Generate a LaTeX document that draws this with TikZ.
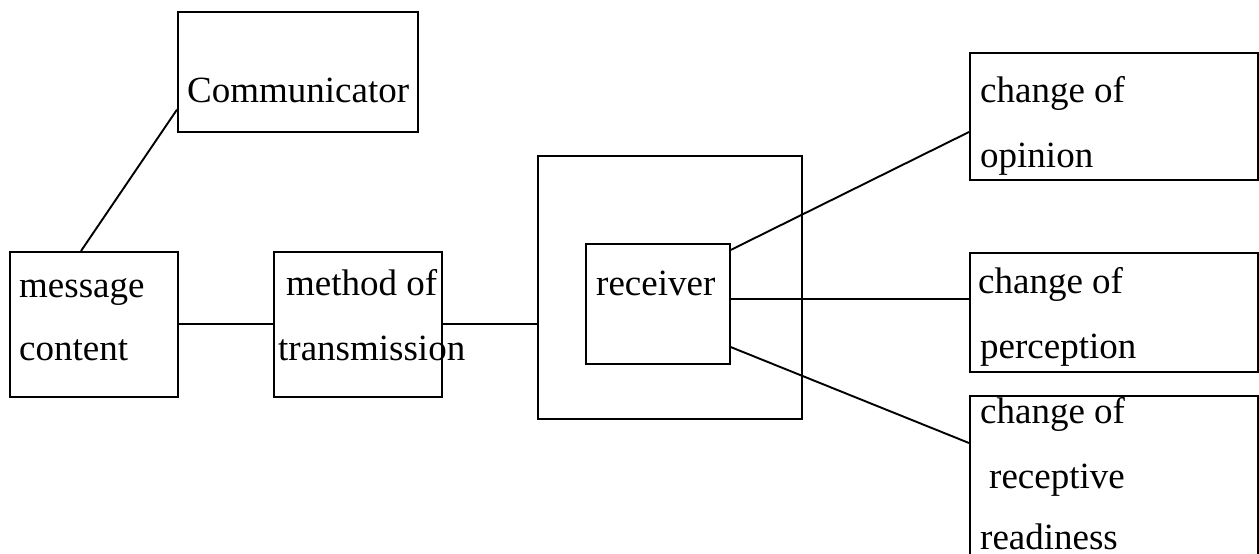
\documentclass[tikz,border=0pt]{standalone}
\usepackage{fontspec}
\setmainfont{Liberation Serif}
\usetikzlibrary{calc}
\begin{document}
\begin{tikzpicture}[x=1pt,y=-1pt,
  box/.style={draw,line width=1.6pt,rectangle,inner sep=0pt,anchor=north west},
  txt/.style={anchor=base west,inner sep=0pt,font=\fontsize{37}{44}\selectfont},
  link/.style={line width=1.9pt}]
\clip (0,0) rectangle (1259,554);
\fill[white] (0,0) rectangle (1259,554);

% boxes
\node[box,minimum width=240pt,minimum height=120pt] (comm) at (177,11) {};
\node[box,minimum width=168pt,minimum height=145pt] (msg) at (9,251) {};
\node[box,minimum width=168pt,minimum height=145pt] (meth) at (273,251) {};
\node[box,minimum width=264pt,minimum height=263pt] (outer) at (537,155) {};
\node[box,minimum width=144pt,minimum height=120pt] (rec) at (585,243) {};
\node[box,minimum width=288pt,minimum height=127pt] (op) at (969,52) {};
\node[box,minimum width=288pt,minimum height=119pt] (perc) at (969,252) {};
\node[box,minimum width=288pt,minimum height=190pt] (ready) at (969,395) {};

% labels
\node[txt] (tcomm) at (187,102) {Communicator};
\node[txt] (tmsg1) at (19,297) {message};
\node[txt] (tmsg2) at (19,360) {content};
\node[txt] (tmeth1) at (286,295) {method of};
\node[txt] (tmeth2) at (278,360) {transmission};
\node[txt] (trec) at (596,295) {receiver};
\node[txt] (top1) at (980,102) {change of};
\node[txt] (top2) at (980,167) {opinion};
\node[txt] (tper1) at (978,293) {change of};
\node[txt] (tper2) at (980,358) {perception};
\node[txt] (trd1) at (980,423) {change of};
\node[txt] (trd2) at (989,488) {receptive};
\node[txt] (trd3) at (980,549) {readiness};

% connectors
\draw[link] ($(msg.north west)+(72,0)$) -- ($(comm.south west)+(0,-23)$);
\draw[link] (msg.east) -- (meth.east -| meth.west);
\draw[link] (meth.east) -- (meth.east -| outer.west);
\draw[link] ($(rec.north east)+(0,7)$) -- ($(op.north west)+(0,80)$);
\draw[link] ($(rec.north east)+(0,56)$) -- ($(perc.north west)+(0,47)$);
\draw[link] ($(rec.north east)+(0,104)$) -- ($(ready.north west)+(0,48)$);
\end{tikzpicture}
\end{document}
